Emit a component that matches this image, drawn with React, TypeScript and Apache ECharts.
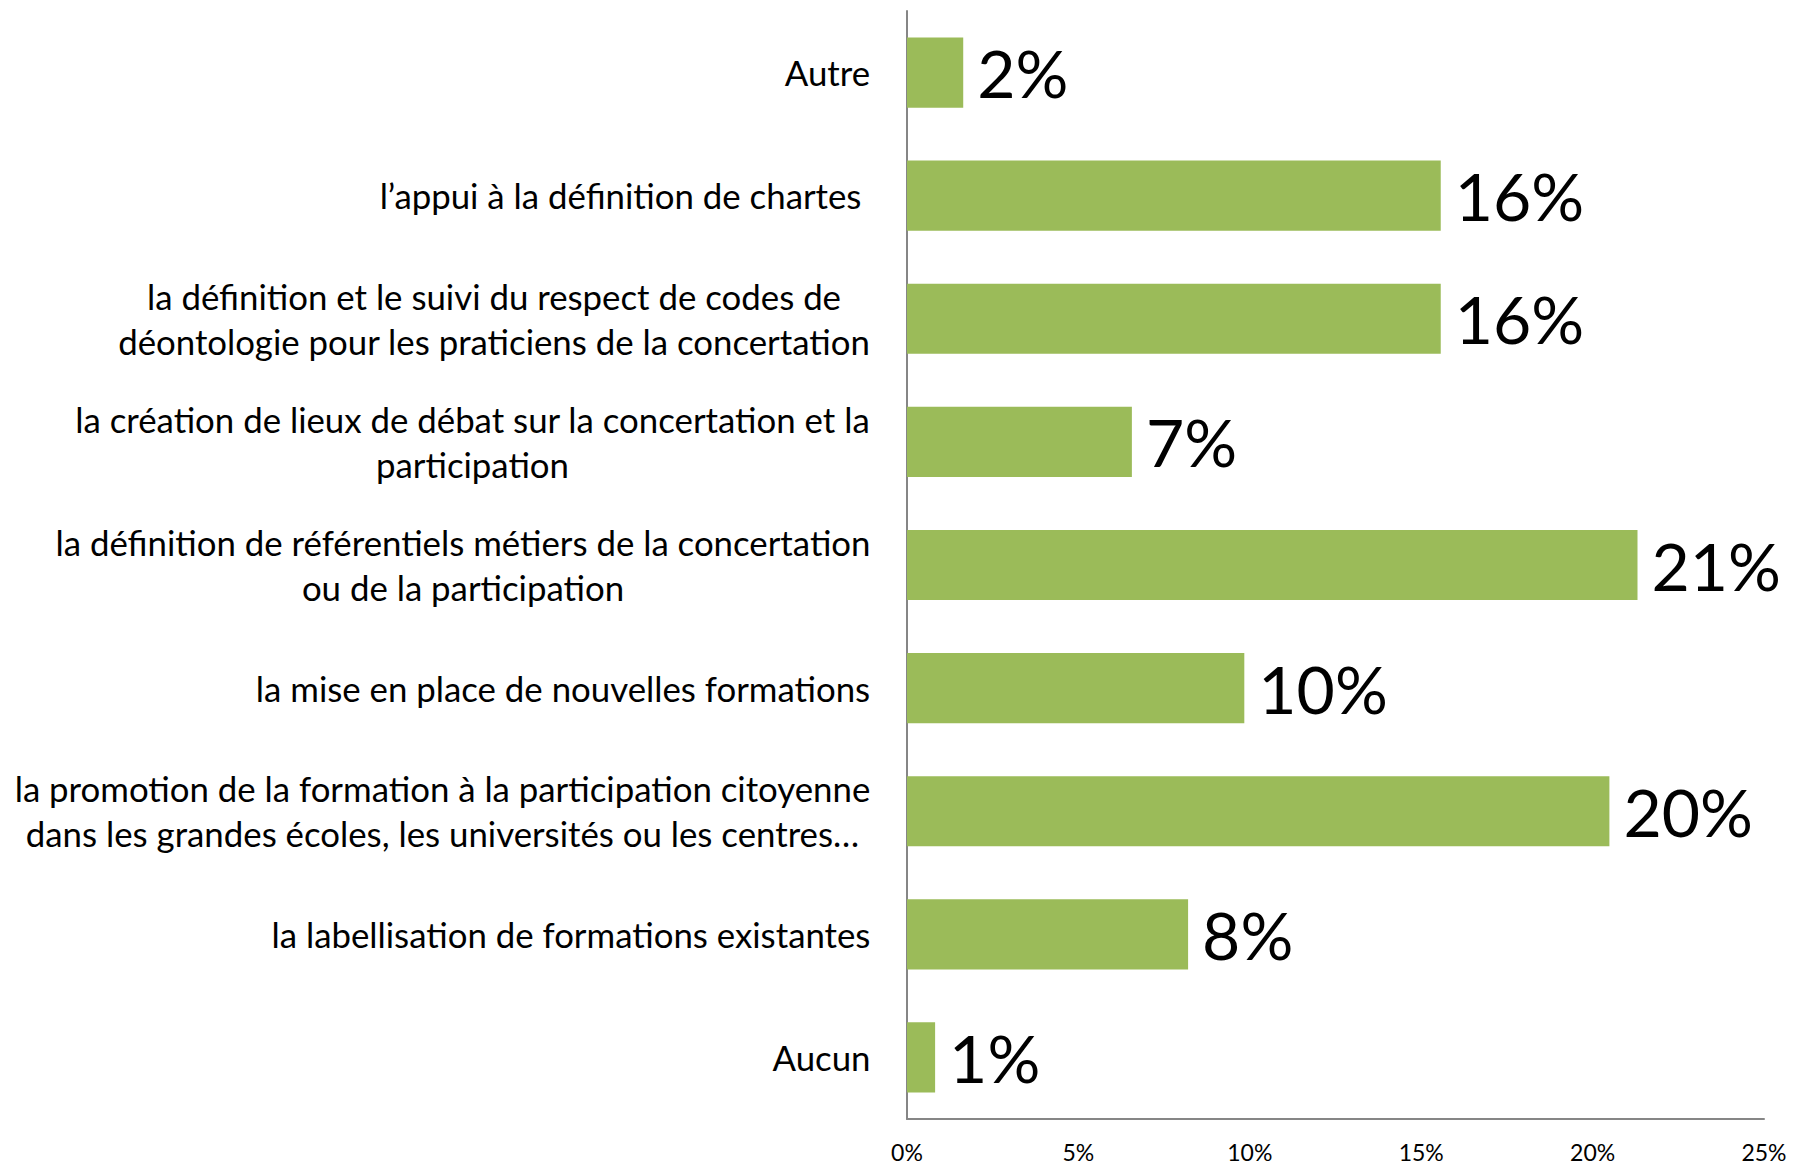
import React, { useEffect, useRef } from "react";
import * as echarts from "echarts";

const categories: string[] = [
  "Autre",
  "l’appui à la définition de chartes\u00a0",
  "la définition et le suivi du respect de codes de\ndéontologie pour les praticiens de la concertation",
  "la création de lieux de débat sur la concertation et la\nparticipation",
  "la définition de référentiels métiers de la concertation\nou de la participation",
  "la mise en place de nouvelles formations",
  "la promotion de la formation à la participation citoyenne\ndans les grandes écoles, les universités ou les centres…",
  "la labellisation de formations existantes",
  "Aucun",
];

const values: number[] = [1.64, 15.57, 15.57, 6.56, 21.31, 9.84, 20.49, 8.2, 0.82];

const xTicks = { min: 0, max: 25, interval: 5 };

const FONT = "Lato, 'Open Sans', sans-serif";
const CAT_SIZE = 34.8;
const CAT_LH = 45;

export default function App() {
  const ref = useRef<HTMLDivElement>(null);

  useEffect(() => {
    if (!ref.current) return;
    const chart = echarts.init(ref.current, undefined, { renderer: "svg" });

    const canvas = document.createElement("canvas");
    const ctx = canvas.getContext("2d")!;
    ctx.font = `${CAT_SIZE}px Lato`;
    const rich: Record<string, any> = {};
    categories.forEach((c, i) => {
      const w = Math.max(...c.split("\n").map((l) => ctx.measureText(l).width));
      rich["c" + i] = {
        width: Math.ceil(w) + 1,
        align: "center",
        fontSize: CAT_SIZE,
        fontFamily: FONT,
        lineHeight: CAT_LH,
        color: "#000",
      };
    });

    chart.setOption({
      animation: false,
      grid: { left: 907, right: 30, top: 11, bottom: 50, containLabel: false },
      xAxis: {
        type: "value",
        min: xTicks.min,
        max: xTicks.max,
        interval: xTicks.interval,
        axisLine: { show: true, lineStyle: { color: "#868686", width: 2 } },
        axisTick: { show: false },
        splitLine: { show: false },
        axisLabel: {
          formatter: "{value}%",
          fontFamily: FONT,
          fontSize: 23,
          lineHeight: 18,
          color: "#000",
          margin: 24,
        },
      },
      yAxis: {
        type: "category",
        inverse: true,
        data: categories,
        axisLine: { show: true, lineStyle: { color: "#868686", width: 2 } },
        axisTick: { show: false },
        axisLabel: {
          interval: 0,
          margin: 36,
          align: "right",
          formatter: (val: string) => {
            const i = categories.indexOf(val);
            return val
              .split("\n")
              .map((l) => `{c${i}|${l}}`)
              .join("\n");
          },
          rich,
        },
      },
      series: [
        {
          type: "bar",
          data: values,
          barWidth: "57%",
          itemStyle: { color: "#9BBB59" },
          label: {
            show: true,
            position: "right",
            distance: 14,
            formatter: (p: any) => Math.round(p.value) + "%",
            fontFamily: FONT,
            fontSize: 66,
            color: "#000",
          },
        },
      ],
    });

    return () => chart.dispose();
  }, []);

  return (
    <div
      ref={ref}
      style={{ position: "fixed", left: 0, top: 0, width: 1794, height: 1169, background: "#fff" }}
    />
  );
}
